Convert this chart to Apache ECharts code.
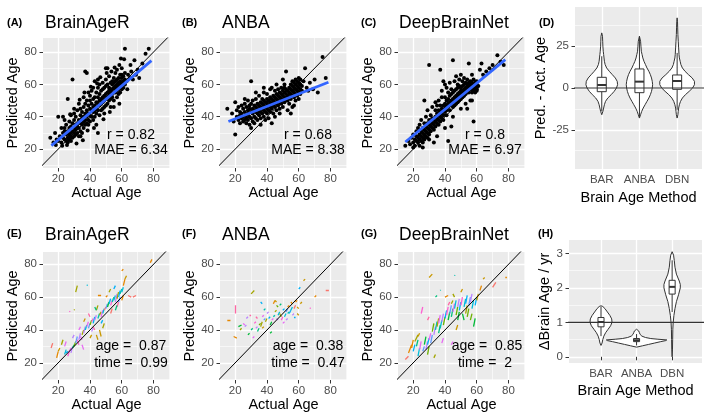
<!DOCTYPE html>
<html>
<head>
<meta charset="utf-8">
<script src="https://cdn.jsdelivr.net/npm/echarts@6/dist/echarts.min.js"></script>
<style>html,body{margin:0;padding:0;background:#fff}#container{width:709px;height:419px}</style>
</head>
<body>
<div id="container"></div>
<script>
var FONT = '"Liberation Sans", Arial, sans-serif';

// tick labels
var ageTicks = [20, 40, 60, 80];
var ageMinorX = [30, 50, 70, 90];
var ageMinorY = [10, 30, 50, 70];
var methods = ['BAR', 'ANBA', 'DBN'];
var methodTicks = [1, 2, 3];
var diffTicks = [-25, 0, 25];
var diffMinor = [-37.5, -12.5, 12.5, 37.5];
var rateTicks = [0, 1, 2, 3];
var rateMinor = [0.5, 1.5, 2.5];

// ggplot hue palette (subject colours)
var hue = ['#F8766D','#E58700','#C99800','#A3A500','#6BB100','#00BA38','#00BF7D','#00C0AF',
           '#00BCD8','#00B0F6','#619CFF','#B983FF','#E76BF3','#FD61D1','#FF67A4'];

// identity line
var diag = [[0, 0], [100, 100]];

// (A) BrainAgeR predicted vs actual
var ptsBAR = [[15,27],[17,24],[18,30],[19,26],[20,40],[20,25],[21,28],[22,33],[22,24],[23,40],[23,27],[23,30],[24,31],[24,26],[24,33],[25,29],[25,25],[25,35],[26,27],[26,31],[26,24],[26,51],[27,29],[27,33],[27,26],[27,37],[28,30],[28,28],[28,34],[28,25],[29,31],[29,36],[29,27],[29,63],[30,30],[30,33],[30,38],[30,28],[30,42],[31,35],[31,29],[31,32],[31,40],[32,36],[32,30],[32,44],[32,34],[33,38],[33,33],[33,48],[33,28],[34,36],[34,41],[34,31],[34,45],[35,39],[35,35],[35,43],[35,30],[36,40],[36,37],[36,46],[36,33],[36,52],[37,42],[37,38],[37,68],[37,35],[37,48],[38,40],[38,44],[38,67],[38,36],[38,50],[39,42],[39,47],[39,38],[39,55],[40,45],[40,41],[40,50],[40,37],[40,53],[41,44],[41,48],[41,40],[41,56],[42,46],[42,43],[42,51],[42,38],[42,58],[43,47],[43,44],[43,52],[43,40],[43,62],[44,49],[44,45],[44,55],[44,42],[44,35],[45,48],[45,52],[45,44],[45,58],[45,63],[46,50],[46,47],[46,54],[46,41],[46,60],[47,51],[47,48],[47,56],[47,44],[48,52],[48,49],[48,57],[48,45],[48,61],[49,53],[49,50],[49,58],[49,46],[49,42],[50,54],[50,51],[50,59],[50,47],[50,63],[50,70],[51,55],[51,52],[51,60],[51,48],[51,70],[52,56],[52,53],[52,58],[52,50],[52,65],[53,55],[53,57],[53,61],[53,51],[53,46],[54,57],[54,54],[54,60],[54,62],[54,52],[55,58],[55,55],[55,61],[55,64],[55,50],[56,57],[56,59],[56,55],[56,62],[56,67],[57,58],[57,60],[57,56],[57,63],[57,69],[58,59],[58,57],[58,61],[58,64],[58,54],[59,60],[59,58],[59,62],[59,66],[59,55],[60,59],[60,61],[60,57],[60,64],[60,70],[60,66],[61,60],[61,62],[61,58],[61,65],[62,60],[62,63],[62,67],[62,82],[63,62],[64,66],[65,64],[66,68],[67,63],[68,75],[69,66],[70,69],[71,64],[73,73],[75,79],[77,82],[45,30],[55,46],[57,52],[39,35],[34,28],[28,41],[24,38],[30,45],
  [22.5,22],[25.5,22.5],[35.5,25.5],[42.5,33],[48.5,38.5],[52.5,43],[58.5,48],[18.5,22.5],[40.5,58.5],[44.5,60.5],[36.5,55],[33.5,50.5],[50.5,67],[55.5,70.5],[58.5,72],[63.5,57],[65.5,72],[61.5,75.5],[59.5,76],[46.5,64.5],[27.5,41.5],[31.5,23.5],[38.5,31.5],[53.5,68]];
var fitBAR = [[15.7, 22.1], [78.7, 74.7]];

// (B) ANBA
var ptsANBA = [[15,45],[18,42],[19,37],[20,29],[20,49],[21,40],[21,44],[22,38],[22,46],[23,41],[23,36],[23,43],[24,39],[24,47],[24,42],[25,40],[25,37],[25,45],[26,43],[26,38],[26,48],[27,41],[27,39],[27,46],[27,36],[28,42],[28,44],[28,38],[28,50],[29,40],[29,45],[29,35],[29,47],[30,43],[30,62],[30,39],[30,48],[30,33],[31,42],[31,45],[31,37],[31,50],[32,44],[32,40],[32,47],[32,36],[33,43],[33,46],[33,39],[33,51],[34,45],[34,42],[34,48],[34,38],[35,44],[35,47],[35,41],[35,53],[36,46],[36,43],[36,49],[36,39],[36,35],[37,45],[37,48],[37,42],[37,51],[38,47],[38,44],[38,50],[38,40],[38,55],[39,46],[39,49],[39,43],[39,38],[40,48],[40,45],[40,51],[40,42],[40,54],[41,47],[41,50],[41,44],[41,39],[42,49],[42,46],[42,52],[42,43],[42,57],[43,48],[43,51],[43,45],[43,58],[43,36],[44,50],[44,47],[44,53],[44,42],[45,49],[45,52],[45,46],[45,56],[45,40],[46,51],[46,48],[46,54],[46,44],[47,50],[47,53],[47,47],[47,57],[48,52],[48,49],[48,55],[48,45],[48,42],[49,51],[49,54],[49,48],[49,58],[50,53],[50,50],[50,56],[50,46],[50,63],[51,52],[51,55],[51,49],[51,60],[52,54],[52,51],[52,57],[52,68],[53,53],[53,56],[53,50],[53,44],[54,55],[54,52],[54,58],[54,48],[55,54],[55,57],[55,60],[55,51],[55,42],[56,56],[56,53],[56,59],[56,62],[57,55],[57,58],[57,52],[57,61],[57,47],[58,57],[58,54],[58,60],[58,63],[58,50],[59,56],[59,59],[59,62],[59,53],[60,58],[60,55],[60,61],[60,64],[60,51],[61,57],[61,60],[61,63],[61,54],[62,59],[62,56],[63,62],[64,70],[65,58],[66,56],[67,61],[69,57],[70,63],[72,55],[75,77],[77,64],[46,60],[38,58],[33,55],[26,51],[51,58],[56,46]];
var fitANBA = [[15.7, 37.1], [78.7, 61.3]];

// (C) DeepBrainNet
var ptsDBN = [[15,22],[17,25],[18,23],[19,27],[20,24],[20,29],[21,26],[21,22],[22,28],[22,25],[22,31],[23,27],[23,24],[23,33],[24,29],[24,26],[24,35],[24,22],[25,28],[25,31],[25,25],[25,38],[26,30],[26,27],[26,33],[26,24],[27,29],[27,32],[27,36],[27,26],[27,50],[28,31],[28,28],[28,34],[28,40],[29,33],[29,30],[29,36],[29,27],[29,44],[30,32],[30,35],[30,72],[30,29],[30,38],[31,34],[31,37],[31,31],[31,41],[32,36],[32,33],[32,39],[32,46],[33,35],[33,38],[33,32],[33,24],[34,37],[34,40],[34,34],[34,44],[34,49],[35,39],[35,36],[35,42],[35,47],[36,41],[36,38],[36,44],[36,35],[36,50],[37,40],[37,43],[37,69],[37,37],[37,47],[38,42],[38,45],[38,39],[38,52],[38,56],[39,44],[39,41],[39,47],[39,38],[39,62],[40,45],[40,43],[40,48],[40,52],[40,60],[41,47],[41,44],[41,50],[41,41],[41,58],[42,48],[42,46],[42,51],[42,25],[42,55],[43,49],[43,47],[43,53],[43,44],[43,61],[44,50],[44,48],[44,54],[44,34],[44,57],[45,51],[45,75],[45,49],[45,55],[45,46],[46,52],[46,50],[46,56],[46,47],[46,62],[47,53],[47,51],[47,57],[47,48],[47,65],[48,54],[48,52],[48,58],[48,49],[48,60],[49,55],[49,53],[49,59],[49,50],[49,63],[50,56],[50,54],[50,58],[50,51],[50,66],[51,56],[51,55],[51,59],[51,52],[51,62],[52,57],[52,55],[52,60],[52,53],[52,64],[53,58],[53,56],[53,61],[53,54],[53,48],[54,58],[54,57],[54,60],[54,45],[54,63],[55,59],[55,57],[55,61],[55,55],[55,73],[56,58],[56,60],[56,57],[56,62],[56,50],[57,59],[57,57],[57,61],[57,55],[57,66],[58,58],[58,60],[58,56],[58,37],[58,63],[59,59],[59,57],[59,61],[59,55],[60,58],[60,60],[60,56],[60,57],[60,62],[61,59],[62,69],[63,73],[64,66],[66,68],[68,70],[70,72],[73,78],[75,74],[77,72],[40,33],[35,28],[30,26],[45,40],[50,45],[57,50],[20,21],[26,21]];
var fitDBN = [[15, 24.4], [78, 75.3]];

// (D) predicted - actual: violin half-widths [diff, halfWidth] and box stats [x, lo, q1, med, q3, hi]
var violinDiff = [
  [[-16,0],[-14,0.03],[-12,0.05],[-10,0.07],[-8,0.1],[-6,0.16],[-4,0.25],[-2,0.33],[0,0.39],[2,0.42],[4,0.41],[6,0.36],[8,0.28],[10,0.2],[12,0.13],[14,0.09],[16,0.07],[18,0.06],[20,0.05],[22,0.04],[25,0.03],[28,0.025],[31,0.02],[33,0]],
  [[-18,0],[-16,0.03],[-14,0.06],[-12,0.1],[-10,0.15],[-8,0.2],[-6,0.25],[-4,0.29],[-2,0.32],[0,0.34],[2,0.35],[4,0.34],[6,0.32],[8,0.29],[10,0.25],[12,0.2],[14,0.16],[16,0.12],[18,0.09],[20,0.07],[22,0.05],[25,0.04],[28,0.03],[31,0]],
  [[-18,0],[-16,0.02],[-14,0.03],[-12,0.04],[-10,0.06],[-8,0.09],[-6,0.14],[-4,0.22],[-2,0.32],[0,0.41],[2,0.46],[4,0.46],[6,0.4],[8,0.3],[10,0.21],[12,0.14],[14,0.1],[16,0.08],[18,0.06],[20,0.05],[24,0.04],[28,0.03],[32,0.02],[36,0.015],[40,0.01],[42,0]]
];
var boxDiff = [[1,-14,-2.2,1.8,6.4,19],[2,-18,-2.8,3.8,11.4,31],[3,-13,-0.8,4.2,7.8,21]];
var zeroLine = [[-1, 0], [5, 0]];

// (E)-(G) longitudinal segments [age1, pred1, age2, pred2, colourIndex]
var segBAR = [[15.5,29,16.5,32,0],[19,23,20,27,1],[20,27,21,29,2],[22,31,23,34,3],[24,25,25,28,8],[25,26,26,27,9],[26,24,27,27,13],[27,27,28,29,12],[28,26,29,30,11],[29,29,30,31,6],[30,30,31,33,4],[31,32,32,36,10],[32,34,33,31,13],[33,34,34,38,11],[34,36,35,34,12],[35,37,36,40,3],[36,38,37,42,11],[37,40,38,43,8],[38,42,39,45,12],[39,41,40,44,10],[40,43,41,46,4],[41,45,42,47,13],[42,44,43,48,9],[43,46,44,49,11],[44,37,45,34,2],[45,47,46,50,7],[46,49,47,51,3],[47,48,48,52,12],[48,50,49,53,8],[49,52,50,54,0],[50,53,51,56,10],[51,54,52,57,5],[52,56,53,59,9],[53,55,54,58,13],[54,57,55,60,7],[55,58,56,61,8],[56,57,57,62,11],[57,59,58,63,3],[58,60,59,64,9],[59,62,60,65,7],[60,63,61,66,8],[60,76,61,77,1],[61,67,62,71,1],[62,71,63,73,2],[64,61,66,60,0],[67,60,69,61,0],[78,81,79,83,1],[31,63,32,67,3],[38,67,38.5,67.5,8],[27,51,27.5,51.5,13],[30,52,30.3,52.5,3],[40,35,41,37,2],[42,42,43,40,14],[44,52,45,55,3],[46,40,47,36,2],[48,41,49,44,3],[50,60,51,61,1],[52,63,53,65,3],[55,65,56,67,9],[57,54,58,57,14],[45,61,47,61,1],[33,40,34,42,12],[36,45,37,47,2],[39,50,40,48,14],[43,54,44,52,6],[41,39,42,41,11],[24,30,25,33,12],[29,35,30,37,11],[35,31,36,28,12],[47,44,48,46,9],[53,50,54,53,0],[56,52,57,55,6],[58,57,59,60,10],[60,58,61,61,1]];
var segANBA = [[15,46,17,46,1],[19,36,21,35,1],[20,55,20,50,14],[22,42,24,43,5],[23,40,24,41,3],[25,44,26,43,12],[26,42,27,43,11],[28,37,29,38,5],[30,62,32,64,3],[30,40,31,41,6],[31,35,32,36,12],[32,44,33,45,13],[33,41,34,42,11],[34,39,35,41,6],[35,43,36,44,4],[36,42,37,45,3],[37,48,38,49,12],[38,46,39,47,10],[39,45,40,47,3],[40,50,41,51,11],[41,47,42,48,9],[42,43,43,45,5],[43,46,44,47,12],[44,56,45,58,1],[44,48,45,49,7],[45,51,46,52,3],[46,47,47,46,11],[47,49,48,51,8],[48,50,49,48,3],[49,46,50,48,13],[50,52,51,53,9],[51,48,52,50,8],[52,51,53,53,10],[53,54,54,55,1],[54,50,55,52,9],[55,52,56,54,8],[56,49,57,50,11],[57,53,58,55,0],[58,57,59,58,1],[59,54,60,53,2],[60,65,61,66,9],[61,56,62,57,2],[63,70,64,71,2],[67,53,67.5,53.5,13],[70,60,71,61,1],[77,64,79,64,0],[36,57,37,56,9],[45,58,46,57,2],[27,47,28,48,11],[33,48,34,47,14],[38,52,39,53,7],[48,55,49,56,6],[52,46,53,47,11],[55,57,56,56,1],[42,38,43,39,5],[37,41,38,42,2],[29,49,30,49,14],[50,44,51,45,12],[46,55,47,54,4],[53,50,54,51,7],[57,48,58,48,9],[59,50,60,49,2]];
var segDBN = [[15,22,17,24,0],[17,26,19,31,1],[19,29,20,34,1],[20,27,21,31,9],[21,33,23,37,3],[22,30,23,34,6],[23,24,24,29,8],[24,28,25,33,12],[25,50,26,54,13],[26,27,27,30,10],[27,31,28,36,5],[28,28,29,33,11],[29,25,30,30,4],[30,72,32,74,2],[29,31,30,35,9],[30,34,31,38,12],[31,32,32,37,10],[32,39,33,44,4],[33,37,34,42,11],[34,40,35,45,7],[35,42,36,47,3],[36,44,37,49,12],[37,41,38,46,8],[38,45,39,50,11],[39,43,40,48,4],[40,47,41,52,9],[41,49,42,54,13],[42,46,43,51,5],[43,50,44,55,10],[44,56,45,58,3],[44,48,45,53,6],[45,51,46,56,12],[46,73,46.3,73.5,7],[46,53,47,58,8],[47,49,48,54,4],[48,54,49,59,11],[49,52,50,57,9],[50,55,51,60,13],[51,50,52,46,5],[52,54,53,59,8],[53,56,54,61,9],[54,48,55,53,4],[55,55,56,60,10],[56,57,57,62,11],[57,53,58,58,8],[58,42,59,47,5],[59,55,60,60,9],[60,58,61,62,2],[62,64,63,67,1],[64,71,65,72,2],[70,66,72,69,0],[78,72,79,72,1],[33,23,34,25,3],[34,60,35,61,6],[37,64,37.3,64.3,7],[40,60,42,61,1],[45,62,46,60,3],[47,40,48,43,2],[38,32,39,35,12],[44,31,45,33,12],[50,63,51,65,2],[53,50,54,55,3],[56,46,57,50,4],[36,38,37,43,6],[42,55,43,57,14],[48,46,49,51,5],[29,46,30,48,14],[23,36,24,38,2]];

// (H) brain age change per year
var violinRate = [
  [[0.33,0],[0.4,0.03],[0.5,0.05],[0.6,0.08],[0.7,0.13],[0.8,0.2],[0.9,0.27],[1.0,0.31],[1.1,0.3],[1.2,0.25],[1.3,0.18],[1.4,0.11],[1.46,0.05],[1.48,0]],
  [[0.28,0],[0.32,0.17],[0.36,0.34],[0.40,0.51],[0.44,0.68],[0.47,0.82],[0.49,0.85],[0.51,0.6],[0.53,0.4],[0.56,0.25],[0.6,0.15],[0.65,0.1],[0.7,0.08],[0.75,0.06],[0.8,0]],
  [[0.0,0],[0.2,0.01],[0.5,0.015],[0.8,0.02],[1.0,0.03],[1.2,0.05],[1.4,0.08],[1.6,0.12],[1.8,0.18],[2.0,0.23],[2.1,0.23],[2.2,0.2],[2.4,0.12],[2.6,0.08],[2.8,0.06],[2.95,0.04],[3.05,0]]
];
var boxRate = [[1,0.6,0.87,1.01,1.14,1.45],[2,0.33,0.44,0.48,0.53,0.66],[3,1.3,1.82,2.03,2.22,2.8]];
var oneLine = [[-1, 1], [5, 1]];

var grids = [
  {left: 43, top: 38, width: 127, height: 130},
  {left: 220, top: 38, width: 127, height: 130},
  {left: 398, top: 38, width: 127, height: 130},
  {left: 575, top: 7, width: 127, height: 162},
  {left: 43, top: 252, width: 127, height: 128},
  {left: 220, top: 252, width: 127, height: 128},
  {left: 398, top: 252, width: 127, height: 128},
  {left: 569, top: 240, width: 133, height: 123}
];
grids.forEach(function (g) { g.show = true; g.backgroundColor = '#EBEBEB'; g.borderWidth = 0; });

var xAxes = [], yAxes = [];
function majorAxis(gi, min, max, ticks, fmt, name, gap, margin) {
  return {
    type: 'value', gridIndex: gi, min: min, max: max,
    name: name, nameLocation: 'middle', nameGap: gap,
    nameTextStyle: {color: '#000', fontSize: 14.5, fontFamily: FONT},
    axisLine: {show: false},
    axisTick: {show: true, length: 3.5, customValues: ticks, lineStyle: {color: '#333', width: 1}},
    axisLabel: {customValues: ticks, color: '#4d4d4d', fontSize: 11.5, fontFamily: FONT, margin: margin, formatter: fmt},
    splitLine: {show: true, lineStyle: {color: '#fff', width: 1.3}}
  };
}
function minorAxis(gi, min, max, ticks) {
  return {
    type: 'value', gridIndex: gi, min: min, max: max,
    axisLine: {show: false},
    axisTick: {show: false, customValues: ticks.length ? ticks : [min]},
    axisLabel: {show: false, customValues: ticks.length ? ticks : [min]},
    splitLine: {show: ticks.length > 0, lineStyle: {color: '#fff', width: 0.6}}
  };
}
function addAxes(gi, xr, yr, xt, yt, xm, ym, xfmt, xname, yname, xgap, ygap) {
  xAxes.push(majorAxis(gi, xr[0], xr[1], xt, xfmt, xname, xgap, 5));
  xAxes.push(minorAxis(gi, xr[0], xr[1], xm));
  yAxes.push(majorAxis(gi, yr[0], yr[1], yt, null, yname, ygap, 6));
  yAxes.push(minorAxis(gi, yr[0], yr[1], ym));
}
var methodFmt = function (v) { return methods[Math.round(v) - 1]; };

addAxes(0, [10.4, 90.4], [8.3, 88.7], ageTicks, ageTicks, ageMinorX, ageMinorY, null, 'Actual Age', 'Predicted Age', 16, 23);
addAxes(1, [10.4, 90.4], [8.3, 88.7], ageTicks, ageTicks, ageMinorX, ageMinorY, null, 'Actual Age', 'Predicted Age', 16, 23);
addAxes(2, [10.4, 90.4], [8.3, 88.7], ageTicks, ageTicks, ageMinorX, ageMinorY, null, 'Actual Age', 'Predicted Age', 16, 23);
addAxes(3, [0.29, 3.66], [-48.5, 48.5], methodTicks, diffTicks, [], diffMinor, methodFmt, 'Brain Age Method', 'Pred. - Act. Age', 21, 21);
addAxes(4, [10.4, 90.4], [9.5, 87.5], ageTicks, ageTicks, ageMinorX, ageMinorY, null, 'Actual Age', 'Predicted Age', 16, 21);
addAxes(5, [10.4, 90.4], [9.5, 87.5], ageTicks, ageTicks, ageMinorX, ageMinorY, null, 'Actual Age', 'Predicted Age', 16, 23);
addAxes(6, [10.4, 90.4], [9.5, 87.5], ageTicks, ageTicks, ageMinorX, ageMinorY, null, 'Actual Age', 'Predicted Age', 16, 23);
addAxes(7, [0.1, 3.84], [-0.18, 3.39], methodTicks, rateTicks, [], rateMinor, methodFmt, 'Brain Age Method', '\u0394Brain Age / yr', 20, 13);

var series = [];
function identity(gi) {
  return {type: 'line', xAxisIndex: 2 * gi, yAxisIndex: 2 * gi, data: diag, symbol: 'none',
    lineStyle: {color: '#000', width: 1}, z: 3, silent: true, clip: true};
}
function scatterPanel(gi, pts, fit) {
  series.push({type: 'scatter', xAxisIndex: 2 * gi, yAxisIndex: 2 * gi, data: pts, symbolSize: 4,
    itemStyle: {color: '#000', opacity: 1}, silent: true, z: 2});
  series.push(identity(gi));
  series.push({type: 'line', xAxisIndex: 2 * gi, yAxisIndex: 2 * gi, data: fit, symbol: 'none',
    lineStyle: {color: '#3366FF', width: 2.8}, z: 4, silent: true});
}
function segPanel(gi, segs) {
  series.push({type: 'lines', coordinateSystem: 'cartesian2d', xAxisIndex: 2 * gi, yAxisIndex: 2 * gi,
    silent: true, z: 2,
    data: segs.map(function (s) { return {coords: [[s[0], s[1]], [s[2], s[3]]], lineStyle: {color: hue[s[4]]}}; }),
    lineStyle: {width: 1.3, opacity: 1, curveness: 0}});
  series.push(identity(gi));
}
function violinPanel(gi, profiles, boxes, hw, hline) {
  series.push({type: 'custom', xAxisIndex: 2 * gi, yAxisIndex: 2 * gi, silent: true, z: 2,
    data: profiles.map(function (p, i) { return [i + 1, 0]; }),
    renderItem: function (params, api) {
      var i = params.dataIndex, prof = profiles[i], cx = i + 1, right = [], left = [];
      for (var k = 0; k < prof.length; k++) {
        right.push(api.coord([cx + prof[k][1], prof[k][0]]));
        left.unshift(api.coord([cx - prof[k][1], prof[k][0]]));
      }
      return {type: 'polygon', shape: {points: right.concat(left)},
        style: {fill: '#fff', stroke: '#333', lineWidth: 1}};
    }});
  series.push({type: 'custom', xAxisIndex: 2 * gi, yAxisIndex: 2 * gi, silent: true, z: 3,
    data: boxes,
    renderItem: function (params, api) {
      var b = boxes[params.dataIndex];
      var lo = api.coord([b[0], b[1]]), hi = api.coord([b[0], b[5]]);
      var tl = api.coord([b[0] - hw, b[4]]), br = api.coord([b[0] + hw, b[2]]);
      var ml = api.coord([b[0] - hw, b[3]]), mr = api.coord([b[0] + hw, b[3]]);
      var st = {stroke: '#333', lineWidth: 1, fill: null};
      return {type: 'group', children: [
        {type: 'line', shape: {x1: lo[0], y1: lo[1], x2: lo[0], y2: br[1]}, style: st},
        {type: 'line', shape: {x1: hi[0], y1: hi[1], x2: hi[0], y2: tl[1]}, style: st},
        {type: 'rect', shape: {x: tl[0], y: tl[1], width: br[0] - tl[0], height: br[1] - tl[1]},
          style: {fill: '#fff', stroke: '#333', lineWidth: 1}},
        {type: 'line', shape: {x1: ml[0], y1: ml[1], x2: mr[0], y2: mr[1]}, style: {stroke: '#333', lineWidth: 2}}
      ]};
    }});
  series.push({type: 'line', xAxisIndex: 2 * gi, yAxisIndex: 2 * gi, data: hline, symbol: 'none',
    lineStyle: {color: '#333', width: 1.2}, z: 5, silent: true, clip: true});
}

scatterPanel(0, ptsBAR, fitBAR);
scatterPanel(1, ptsANBA, fitANBA);
scatterPanel(2, ptsDBN, fitDBN);
violinPanel(3, violinDiff, boxDiff, 0.12, zeroLine);
segPanel(4, segBAR);
segPanel(5, segANBA);
segPanel(6, segDBN);
violinPanel(7, violinRate, boxRate, 0.085, oneLine);

function txt(x, y, s, font, align) {
  return {type: 'text', x: x, y: y, z: 10, silent: true,
    style: {text: s, font: font, fill: '#000', align: align || 'left', verticalAlign: 'middle'}};
}
var fTitle = '17.5px ' + FONT, fTag = 'bold 11px ' + FONT, fNote = '14px ' + FONT;
var graphics = [
  txt(7, 23, '(A)', fTag), txt(45, 23, 'BrainAgeR', fTitle),
  txt(182, 23, '(B)', fTag), txt(222, 23, 'ANBA', fTitle),
  txt(361, 23, '(C)', fTag), txt(399, 23, 'DeepBrainNet', fTitle),
  txt(539, 23, '(D)', fTag),
  txt(7, 233.5, '(E)', fTag), txt(45, 235.5, 'BrainAgeR', fTitle),
  txt(182, 233.5, '(F)', fTag), txt(222, 235.5, 'ANBA', fTitle),
  txt(361, 233.5, '(G)', fTag), txt(399, 235.5, 'DeepBrainNet', fTitle),
  txt(538, 233.5, '(H)', fTag),
  txt(131, 135, 'r = 0.82', fNote, 'center'), txt(131, 150, 'MAE = 6.34', fNote, 'center'),
  txt(308, 135, 'r = 0.68', fNote, 'center'), txt(308, 150, 'MAE = 8.38', fNote, 'center'),
  txt(485, 135, 'r = 0.8', fNote, 'center'), txt(485, 150, 'MAE = 6.97', fNote, 'center'),
  txt(131, 346.5, 'age =  0.87', fNote, 'center'), txt(131, 363, 'time =  0.99', fNote, 'center'),
  txt(308, 346.5, 'age =  0.38', fNote, 'center'), txt(308, 363, 'time =  0.47', fNote, 'center'),
  txt(487, 346.5, 'age =  0.85', fNote, 'center'), txt(485, 363, 'time =  2', fNote, 'center')
];

var myChart = echarts.init(document.getElementById('container'), null, {renderer: 'canvas'});
myChart.setOption({
  animation: false,
  backgroundColor: '#fff',
  grid: grids,
  xAxis: xAxes,
  yAxis: yAxes,
  series: series,
  graphic: graphics
});
</script>
</body>
</html>
